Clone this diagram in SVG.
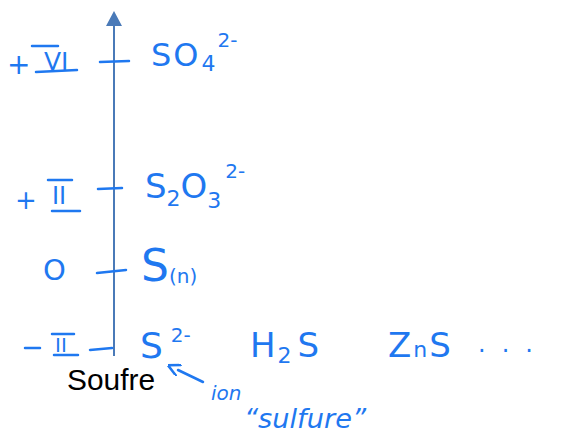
<svg xmlns="http://www.w3.org/2000/svg" width="576" height="441" viewBox="0 0 576 441">
<style>
.h{font-family:"DejaVu Sans","Liberation Sans",sans-serif;fill:#1f78f0}
.bar{stroke:#1f78f0;stroke-width:2.5;stroke-linecap:round;fill:none}
.tick{stroke:#1f78f0;stroke-width:2.5;stroke-linecap:round}
</style>
<defs>
<marker id="ah" viewBox="0 0 10 10" refX="1" refY="5" markerWidth="5" markerHeight="5" orient="auto"><path d="M0,0 L10,5 L0,10" fill="none" stroke="#1f78f0" stroke-width="2"/></marker>
</defs>
<rect width="576" height="441" fill="#fff"/>
<g id="axis">
<line x1="114" y1="24" x2="114" y2="356" stroke="#4a7ab8" stroke-width="2"/>
<polygon points="114,11 106,26 122,26" fill="#4a7ab8"/>
</g>
<g id="ticks">
<line class="tick" x1="100" y1="62" x2="129" y2="61"/>
<line class="tick" x1="98" y1="189" x2="122" y2="188"/>
<line class="tick" x1="97" y1="273" x2="126" y2="270"/>
<line class="tick" x1="90" y1="350" x2="112" y2="348"/>
</g>
<g id="lvl6">
<text class="h" x="7" y="74" font-size="28">+</text>
<text class="h" x="44" y="70" font-size="25">VI</text>
<line class="bar" x1="32" y1="46" x2="58" y2="46"/>
<line class="bar" x1="36" y1="72" x2="77" y2="70"/>
<text class="h" x="151" y="66" font-size="32">S<tspan dx="2">O</tspan><tspan font-size="22" dx="3" dy="5">4</tspan><tspan font-size="20" dx="2" dy="-24">2-</tspan></text>
</g>
<g id="lvl2">
<text class="h" x="15" y="209" font-size="26">+</text>
<text class="h" x="52" y="204" font-size="24">II</text>
<line class="bar" x1="48" y1="180" x2="72" y2="180"/>
<line class="bar" x1="52" y1="211" x2="80" y2="211"/>
<text class="h" x="145" y="198" font-size="34">S<tspan font-size="22" dy="8">2</tspan><tspan dy="-8">O</tspan><tspan font-size="22" dy="10">3</tspan><tspan font-size="20" dx="4" dy="-30">2-</tspan></text>
</g>
<g id="lvl0">
<text class="h" x="43" y="280" font-size="29">O</text>
<text class="h" x="141" y="281" font-size="44">S<tspan font-size="20" dy="2">(n)</tspan></text>
</g>
<g id="lvlm2">
<line class="bar" x1="25" y1="348" x2="40" y2="348"/>
<text class="h" x="55" y="352" font-size="20">II</text>
<line class="bar" x1="52" y1="334" x2="74" y2="334"/>
<line class="bar" x1="54" y1="355" x2="78" y2="355"/>
<text class="h" x="140" y="358" font-size="36">S<tspan font-size="20" dx="8" dy="-16">2-</tspan></text>
<text class="h" x="250" y="357" font-size="34">H<tspan font-size="22" dx="2" dy="6">2</tspan><tspan dy="-6" dx="6">S</tspan></text>
<text class="h" x="388" y="357" font-size="34" letter-spacing="2">Z<tspan font-size="22">n</tspan>S</text>
<text class="h" x="478" y="352" font-size="24" letter-spacing="16">...</text>
</g>
<g id="soufre">
<text x="67" y="390" font-family="'Liberation Sans',sans-serif" font-size="29" fill="#000" textLength="88" lengthAdjust="spacingAndGlyphs">Soufre</text>
</g>
<g id="connectors">
<line x1="203" y1="382" x2="178" y2="370" stroke="#1f78f0" stroke-width="2.5" stroke-linecap="round" marker-end="url(#ah)"/>
</g>
<g id="note">
<text class="h" x="211" y="400" font-size="20" font-style="italic">ion</text>
<text class="h" x="244" y="428" font-size="26" font-style="italic" textLength="122" lengthAdjust="spacingAndGlyphs">“sulfure”</text>
</g>
</svg>
